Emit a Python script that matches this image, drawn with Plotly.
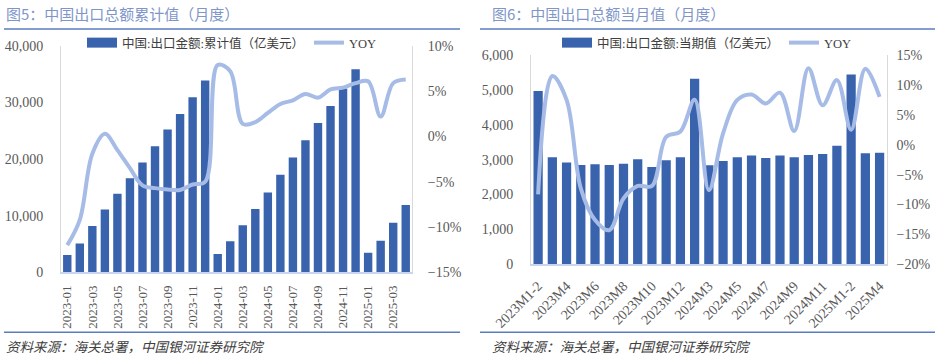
import plotly.graph_objects as go

# ---------------- data ----------------
months_cum = ["2023-01", "2023-02", "2023-03", "2023-04", "2023-05", "2023-06", "2023-07",
              "2023-08", "2023-09", "2023-10", "2023-11", "2023-12",
              "2024-01", "2024-02", "2024-03", "2024-04", "2024-05", "2024-06", "2024-07",
              "2024-08", "2024-09", "2024-10", "2024-11", "2024-12",
              "2025-01", "2025-02", "2025-03", "2025-04"]
export_cum = [3050, 5100, 8200, 11100, 13900, 16630, 19420, 22300, 25250, 28000, 30920, 33900,
              3250, 5500, 8330, 11170, 14100, 17250, 20300, 23350, 26380, 29400, 32500, 35900,
              3470, 5560, 8750, 11900]
yoy_cum = [-12.0, -9.2, -1.9, 0.3, -1.5, -3.5, -5.4, -5.7, -5.85, -5.9, -5.3, -5.0,
           7.9, 7.2, 1.4, 1.6, 2.6, 3.6, 4.0, 4.7, 4.3, 5.2, 5.4, 5.9,
           6.1, 2.2, 5.9, 6.3]

months_mon = ["2023M1-2", "2023M3", "2023M4", "2023M5", "2023M6", "2023M7", "2023M8",
              "2023M9", "2023M10", "2023M11", "2023M12",
              "2024M1-2", "2024M3", "2024M4", "2024M5", "2024M6", "2024M7", "2024M8",
              "2024M9", "2024M10", "2024M11", "2024M12",
              "2025M1-2", "2025M3", "2025M4"]
export_mon = [4970, 3070, 2920, 2850, 2870, 2850, 2880, 3010, 2790, 2980, 3070,
              5320, 2840, 2960, 3070, 3120, 3050, 3120, 3070, 3130, 3160, 3400,
              5440, 3180, 3200]
yoy_mon = [-8.3, 11.5, 7.5, -7.3, -12.6, -14.3, -9.0, -6.9, -6.9, 1.3, 2.2,
           7.5, -7.6, 1.9, 7.5, 8.4, 6.9, 8.7, 2.3, 12.8, 6.6, 10.8,
           2.5, 12.7, 8.0]

title_left = "图5：中国出口总额累计值（月度）"
title_right = "图6：中国出口总额当月值（月度）"
source_text = "资料来源：海关总署，中国银河证券研究院"
bar_name_left = "中国:出口金额:累计值（亿美元）"
bar_name_right = "中国:出口金额:当期值（亿美元）"
line_name = "YOY"

# ---------------- styles ----------------
W, H = 937, 356
BAR = "#3A63AD"
LINE = "#A6BCE6"
AXIS = "#D9D9D9"
XLINE = "#C9D5EE"
TICK = "#595959"
SERIF = "Liberation Serif, Noto Sans CJK SC, serif"
SANS = "Noto Sans CJK SC, sans-serif"


def px(x):
    return x / W


def py(y):
    return 1 - y / H


fig = go.Figure()

# left chart
fig.add_trace(go.Scatter(x=[None], y=[None], mode="lines", name=bar_name_left,
                         line=dict(color=BAR, width=10), legend="legend",
                         xaxis="x", yaxis="y", hoverinfo="skip"))
fig.add_trace(go.Bar(x=months_cum, y=export_cum, marker=dict(color=BAR, line=dict(width=0)),
                     xaxis="x", yaxis="y", showlegend=False))
fig.add_trace(go.Scatter(x=months_cum, y=yoy_cum, mode="lines", name=line_name,
                         line=dict(color=LINE, width=4, shape="spline", smoothing=1.0),
                         xaxis="x", yaxis="y2", legend="legend"))

# right chart
fig.add_trace(go.Scatter(x=[None], y=[None], mode="lines", name=bar_name_right,
                         line=dict(color=BAR, width=10), legend="legend2",
                         xaxis="x2", yaxis="y3", hoverinfo="skip"))
fig.add_trace(go.Bar(x=months_mon, y=export_mon, marker=dict(color=BAR, line=dict(width=0)),
                     xaxis="x2", yaxis="y3", showlegend=False, width=0.65))
fig.add_trace(go.Scatter(x=months_mon, y=yoy_mon, mode="lines", name=line_name,
                         line=dict(color=LINE, width=4, shape="spline", smoothing=1.0),
                         xaxis="x2", yaxis="y4", legend="legend2"))

tickfont = dict(family=SERIF, size=14, color=TICK)
common = dict(automargin=False, showgrid=False, zeroline=False, ticks="")

fig.update_layout(
    width=W, height=H,
    margin=dict(l=0, r=0, t=0, b=0, autoexpand=False),
    paper_bgcolor="white", plot_bgcolor="white",
    bargap=0.33,
    xaxis=dict(domain=[px(61), px(412)], anchor="y", type="category",
               range=[-0.5, len(months_cum) - 0.5],
               tickmode="array", tickvals=months_cum[::2], tickangle=-90,
               tickfont=dict(family=SERIF, size=13, color=TICK),
               showline=True, linecolor=XLINE, linewidth=2, ticklabelstandoff=6, **common),
    yaxis=dict(domain=[py(272.3), py(46)], anchor="x", range=[0, 40000], dtick=10000,
               tickformat=",d", tickfont=tickfont,
               showline=True, linecolor=AXIS, linewidth=1, ticklabelstandoff=14, **common),
    yaxis2=dict(overlaying="y", side="right", anchor="x", range=[-15, 10], dtick=5,
                ticksuffix="%", tickfont=tickfont,
                showline=True, linecolor=AXIS, linewidth=1, ticklabelstandoff=12, **common),
    xaxis2=dict(domain=[px(531), px(886.7)], anchor="y3", type="category",
                range=[-0.5, len(months_mon) - 0.5],
                tickmode="array", tickvals=months_mon[::2], tickangle=-45,
                tickfont=dict(family=SERIF, size=14, color=TICK),
                showline=True, linecolor=XLINE, linewidth=2, ticklabelstandoff=6, **common),
    yaxis3=dict(domain=[py(264.3), py(55)], anchor="x2", range=[0, 6000], dtick=1000,
                tickformat=",d", tickfont=tickfont,
                showline=True, linecolor=AXIS, linewidth=1, ticklabelstandoff=14, **common),
    yaxis4=dict(overlaying="y3", side="right", anchor="x2", range=[-20, 15], dtick=5,
                ticksuffix="%", tickfont=tickfont,
                showline=True, linecolor=AXIS, linewidth=1, ticklabelstandoff=6, **common),
    legend=dict(orientation="h", x=px(232), xanchor="center", y=py(43), yanchor="middle",
                bgcolor="rgba(0,0,0,0)", font=dict(family=SERIF, size=12.5, color="#404040"),
                itemwidth=30, tracegroupgap=0),
    legend2=dict(orientation="h", x=px(707), xanchor="center", y=py(43), yanchor="middle",
                 bgcolor="rgba(0,0,0,0)", font=dict(family=SERIF, size=12.5, color="#404040"),
                 itemwidth=30, tracegroupgap=0),
    showlegend=True,
)

# titles, rules and source notes
title_color = "#8096C9"
rule_color = "#5B7CC1"
for x0, x1, tx, title in [(4, 460, 4, title_left), (480, 935, 490, title_right)]:
    fig.add_shape(type="line", xref="paper", yref="paper", x0=px(x0), x1=px(x1),
                  y0=py(29), y1=py(29), line=dict(color=rule_color, width=1.5))
    fig.add_shape(type="line", xref="paper", yref="paper", x0=px(x0), x1=px(x1),
                  y0=py(332.3), y1=py(332.3), line=dict(color=rule_color, width=1.5))
    fig.add_annotation(xref="paper", yref="paper", x=px(tx), y=py(14), xanchor="left",
                       yanchor="middle", showarrow=False, text=title,
                       font=dict(family=SANS, size=15, color=title_color))
    fig.add_annotation(xref="paper", yref="paper", x=px(tx), y=py(346), xanchor="left",
                       yanchor="middle", showarrow=False, text="<i>" + source_text + "</i>",
                       font=dict(family=SANS, size=13.5, color="#404040"))

fig.write_html("out.html", config={"displayModeBar": False},
               post_script="document.body.style.margin='0';document.body.style.overflow='hidden';")
